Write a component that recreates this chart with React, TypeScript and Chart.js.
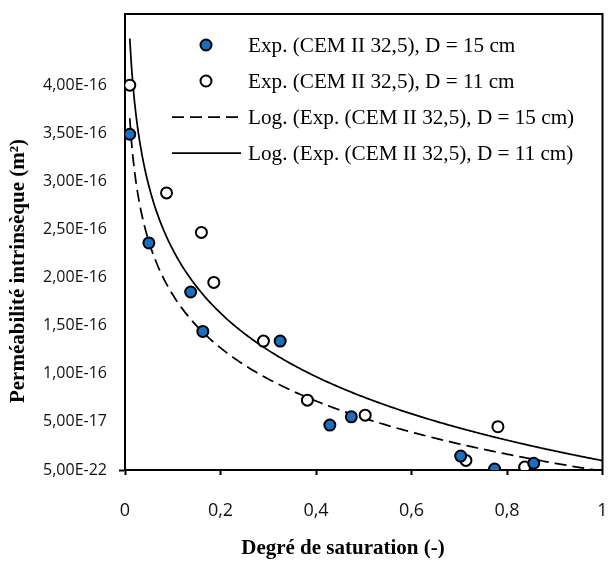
import React, { useEffect, useRef } from "react";
import { Chart, registerables } from "chart.js";

Chart.register(...registerables);

// ---- data ----
const seriesLabels = [
  "Exp. (CEM II 32,5), D = 15 cm",
  "Exp. (CEM II 32,5), D = 11 cm",
  "Log. (Exp. (CEM II 32,5), D = 15 cm)",
  "Log. (Exp. (CEM II 32,5), D = 11 cm)",
];

const saturationD15 = [0.01, 0.05, 0.1375, 0.163, 0.325, 0.429, 0.474, 0.703, 0.774, 0.856];
const permeabilityD15 = [3.49e-16, 2.36e-16, 1.85e-16, 1.44e-16, 1.34e-16, 0.467e-16, 0.553e-16, 0.145e-16, 0.01e-16, 0.07e-16];

const saturationD11 = [0.01, 0.087, 0.16, 0.186, 0.29, 0.382, 0.503, 0.714, 0.781, 0.837];
const permeabilityD11 = [4.0e-16, 2.88e-16, 2.47e-16, 1.95e-16, 1.34e-16, 0.726e-16, 0.57e-16, 0.1e-16, 0.45e-16, 0.03e-16];

const xTickValues = [0, 0.2, 0.4, 0.6, 0.8, 1];
const xTickLabels = ["0", "0,2", "0,4", "0,6", "0,8", "1"];

const yTickValues = [5e-22, 5e-17, 1e-16, 1.5e-16, 2e-16, 2.5e-16, 3e-16, 3.5e-16, 4e-16];
const yTickLabels = ["5,00E-22", "5,00E-17", "1,00E-16", "1,50E-16", "2,00E-16", "2,50E-16", "3,00E-16", "3,50E-16", "4,00E-16"];

const xTitle = "Degré de saturation (-)";
const yTitle = "Perméabilité intrinsèque (m²)";

// Logarithmic trendline (least squares of y on ln x), as Excel's "Log." trendline
function logFit(xs: number[], ys: number[]) {
  const lx = xs.map((x) => Math.log(x));
  const n = xs.length;
  const mx = lx.reduce((a, b) => a + b, 0) / n;
  const my = ys.reduce((a, b) => a + b, 0) / n;
  let sxy = 0;
  let sxx = 0;
  for (let i = 0; i < n; i++) {
    sxy += (lx[i] - mx) * (ys[i] - my);
    sxx += (lx[i] - mx) * (lx[i] - mx);
  }
  const a = sxy / sxx;
  const b = my - a * mx;
  return { a, b };
}

function trendPoints(xs: number[], ys: number[], xEnd: number) {
  const { a, b } = logFit(xs, ys);
  const x0 = Math.min(...xs);
  const pts: { x: number; y: number }[] = [];
  const steps = 300;
  for (let i = 0; i <= steps; i++) {
    const x = x0 + ((xEnd - x0) * i) / steps;
    pts.push({ x, y: a * Math.log(x) + b });
  }
  return pts;
}

const BLUE = "#1b6ec2";

export default function App() {
  const ref = useRef<HTMLCanvasElement | null>(null);

  useEffect(() => {
    document.body.style.margin = "0";
    const canvas = ref.current!;
    const pts15 = saturationD15.map((x, i) => ({ x, y: permeabilityD15[i] }));
    const pts11 = saturationD11.map((x, i) => ({ x, y: permeabilityD11[i] }));

    const framePlugin = {
      id: "frame",
      beforeDatasetsDraw(chart: any) {
        const { ctx, chartArea } = chart;
        const { left, top, right, bottom } = chartArea;
        ctx.save();
        ctx.strokeStyle = "#000";
        ctx.lineWidth = 2;
        ctx.strokeRect(left, top, right - left, bottom - top);
        ctx.restore();
      },
      afterDraw(chart: any) {
        const { ctx } = chart;
        ctx.save();
        ctx.fillStyle = "#000";
        ctx.textAlign = "center";
        ctx.textBaseline = "middle";
        ctx.font = 'bold 21px "Liberation Serif"';
        ctx.fillText(xTitle, 343, 549);
        ctx.save();
        ctx.translate(19, 271);
        ctx.rotate(-Math.PI / 2);
        ctx.fillText(yTitle, 0, 0);
        ctx.restore();

        // legend
        const ds = chart.data.datasets;
        const rowY = [45, 81, 117, 153];
        ctx.font = '21.2px "Liberation Serif"';
        ctx.textAlign = "left";
        for (let i = 0; i < ds.length; i++) {
          const d = ds[i];
          const y = rowY[i];
          if (d.showLine === false) {
            ctx.beginPath();
            ctx.arc(206, y, 5.5, 0, Math.PI * 2);
            ctx.fillStyle = d.backgroundColor;
            ctx.fill();
            ctx.lineWidth = 2;
            ctx.strokeStyle = "#000";
            ctx.stroke();
          } else {
            ctx.beginPath();
            ctx.setLineDash(d.borderDash || []);
            ctx.lineWidth = d.borderWidth;
            ctx.strokeStyle = d.borderColor;
            ctx.moveTo(172, y);
            ctx.lineTo(241, y);
            ctx.stroke();
            ctx.setLineDash([]);
          }
          ctx.fillStyle = "#000";
          ctx.fillText(d.label, 248, y + 1);
        }
        ctx.restore();
      },
    };

    const chart = new Chart(canvas, {
      type: "scatter",
      data: {
        datasets: [
          {
            label: seriesLabels[0],
            data: pts15,
            showLine: false,
            backgroundColor: BLUE,
            borderColor: "#000",
            borderWidth: 2,
            pointRadius: 5.5,
            order: 1,
          },
          {
            label: seriesLabels[1],
            data: pts11,
            showLine: false,
            backgroundColor: "#fff",
            borderColor: "#000",
            borderWidth: 2,
            pointRadius: 5.5,
            order: 2,
          },
          {
            label: seriesLabels[2],
            data: trendPoints(saturationD15, permeabilityD15, 1),
            showLine: true,
            borderColor: "#000",
            backgroundColor: "#000",
            borderWidth: 1.75,
            borderDash: [12, 6],
            pointRadius: 0,
            fill: false,
            order: 3,
          },
          {
            label: seriesLabels[3],
            data: trendPoints(saturationD11, permeabilityD11, 1),
            showLine: true,
            borderColor: "#000",
            backgroundColor: "#000",
            borderWidth: 1.75,
            pointRadius: 0,
            fill: false,
            order: 4,
          },
        ],
      },
      options: {
        animation: false,
        responsive: false,
        devicePixelRatio: 1,
        layout: { padding: { top: 14, right: 4, bottom: 0, left: 0 } },
        plugins: { legend: { display: false }, tooltip: { enabled: false } },
        scales: {
          x: {
            type: "linear",
            min: 0,
            max: 1,
            afterBuildTicks: (s: any) => {
              s.ticks = xTickValues.map((v) => ({ value: v }));
            },
            afterFit: (s: any) => {
              s.height = 92;
              s.paddingLeft = 0;
              s.paddingRight = 0;
            },
            ticks: {
              callback: (_v: any, i: number) => xTickLabels[i],
              font: { family: "Open Sans", size: 18 },
              color: "#111",
              padding: 25,
              maxRotation: 0,
            },
            grid: { drawOnChartArea: false, drawTicks: true, tickLength: 5, tickColor: "#000", tickWidth: 2 },
            border: { display: true, color: "#000", width: 2 },
          },
          y: {
            type: "linear",
            min: 5e-22,
            max: 4.74e-16,
            afterBuildTicks: (s: any) => {
              s.ticks = yTickValues.map((v) => ({ value: v }));
            },
            afterFit: (s: any) => {
              s.width = 125;
              s.paddingTop = 0;
              s.paddingBottom = 0;
            },
            ticks: {
              callback: (_v: any, i: number) => yTickLabels[i],
              font: { family: "Open Sans", size: 16 },
              color: "#111",
              padding: 12,
            },
            grid: {
              drawOnChartArea: false,
              drawTicks: true,
              tickLength: 6,
              tickWidth: 2,
              tickColor: (c: any) => (c.index === 0 ? "#000" : "rgba(0,0,0,0)"),
            },
            border: { display: true, color: "#000", width: 2 },
          },
        },
      },
      plugins: [framePlugin],
    } as any);

    return () => chart.destroy();
  }, []);

  return (
    <div style={{ width: 610, height: 562 }}>
      <canvas ref={ref} width={610} height={562} style={{ display: "block" }} />
    </div>
  );
}
